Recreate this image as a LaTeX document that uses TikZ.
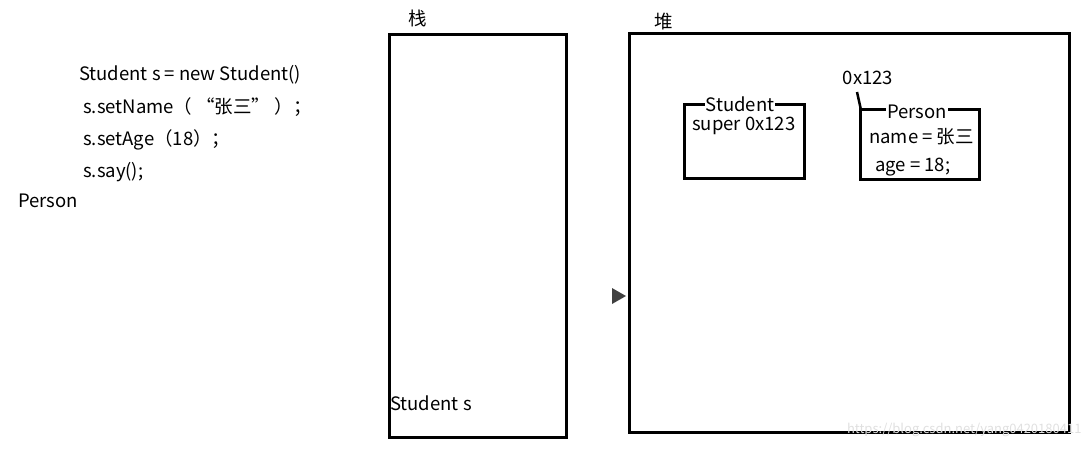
\documentclass[tikz,border=0pt]{standalone}
\usepackage{fontspec}
\setmainfont{Noto Sans CJK SC}
\begin{document}
\begin{tikzpicture}[x=1pt,y=-1pt,
  box/.style={draw=black,line width=3pt},
  lbl/.style={font=\fontsize{18.5}{20}\selectfont,inner sep=1pt},
  ttl/.style={lbl,fill=white,inner sep=2pt}]
\useasboundingbox (0,0) rectangle (1092,450);
\node[lbl,anchor=west] (c1) at (78,75) {Student s = new Student()};
\node[lbl,anchor=west] (c2) at (82,107) {s.setName（ “张三” ）；};
\node[lbl,anchor=west] (c3) at (82,140) {s.setAge（18）；};
\node[lbl,anchor=west] (c4) at (82,172) {s.say();};
\node[lbl,anchor=west] (p) at (17,201) {Person};
\draw[box] (389,34) rectangle (566,437);
\node[lbl] (zh) at (418,18) {栈};
\node[lbl,anchor=west] (ss) at (389,403) {Student s};
\draw[box] (629,33) rectangle (1069,432);
\node[lbl] (du) at (664,22) {堆};
\draw[box] (684,104) rectangle (804,178);
\node[ttl,inner sep=1pt] (st) at (740,104) {Student};
\node[lbl,anchor=west,inner sep=0pt] (sup) at (692,126) {super 0x123};
\draw[box] (860,109) rectangle (979,179);
\node[ttl,inner sep=1pt] (pe) at (917,112) {Person};
\node[lbl,anchor=west,inner sep=0pt] (nm) at (869,137) {name = 张三};
\node[lbl,anchor=west,inner sep=0pt] (ag) at (875,167) {age = 18;};
\node[lbl] (addr) at (868,78) {0x123};
\coordinate (ct) at (861,110);
\draw[line width=2.5pt] (857,92) -- (ct);
\fill[black!75] (612,288) -- (626,296) -- (612,304) -- cycle;
\node[font=\fontsize{13}{15}\selectfont,text=black!12,anchor=east] (wm) at (1085,430) {https://blog.csdn.net/yang0420180411};
\end{tikzpicture}
\end{document}
